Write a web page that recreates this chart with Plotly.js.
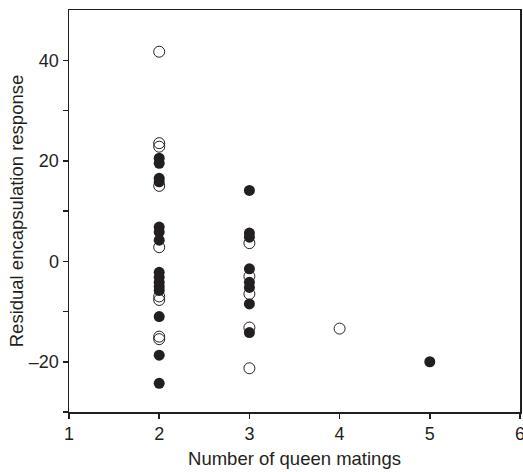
<!DOCTYPE html>
<html>
<head>
<meta charset="utf-8">
<script src="https://cdn.plot.ly/plotly-3.0.1.min.js"></script>
<style>html,body{margin:0;padding:0;background:#fff;}#chart{width:523px;height:472px;}</style>
</head>
<body>
<div id="chart"></div>
<script>
// Data
const filledX = [2,2,2,2,2,2,2,2,2,2,2,2,2,2,2, 3,3,3,3,3,3,3,3, 5];
const filledY = [20.5,19.5,16.5,15.8,6.8,5.8,4.2,-2.2,-3.2,-4.2,-5.0,-5.8,-11.0,-18.7,-24.3,
                 14.1,5.6,4.8,-1.5,-4.2,-5.2,-8.5,-14.2,
                 -20.0];
const openX = [2,2,2,2,2,2,2,2,2, 3,3,3,3,3, 4];
const openY = [41.7,23.5,22.8,15.0,2.8,-7.0,-7.7,-15.0,-15.5,
               3.6,-3.0,-6.5,-13.2,-21.3,
               -13.4];
const yTickVals = [-30,-20,-10,0,10,20,30,40];
const yTickText = ['','\u201320','','0','','20','','40'];
const xTickVals = [1,2,3,4,5,6];

const ink = '#231f20';
const traces = [
  {x: openX, y: openY, type: 'scatter', mode: 'markers',
   marker: {symbol: 'circle-open', size: 11, color: ink, line: {width: 1, color: ink}},
   hoverinfo: 'x+y', showlegend: false},
  {x: filledX, y: filledY, type: 'scatter', mode: 'markers',
   marker: {symbol: 'circle', size: 11, color: ink, line: {width: 0}},
   hoverinfo: 'x+y', showlegend: false}
];
const tickFont = {family: 'Liberation Sans, Arial, sans-serif', size: 18, color: ink};
const titleFont = {family: 'Liberation Sans, Arial, sans-serif', size: 18.5, color: ink};
const layout = {
  width: 523, height: 472,
  margin: {l: 69, r: 3, t: 10, b: 60},
  paper_bgcolor: '#fff', plot_bgcolor: '#fff',
  font: tickFont,
  showlegend: false,
  xaxis: {
    range: [1, 6], tickvals: xTickVals, ticktext: xTickVals.map(String),
    showline: true, mirror: true, linecolor: ink, linewidth: 1.5,
    ticks: 'outside', ticklen: 5, tickwidth: 1.5, tickcolor: ink,
    showgrid: false, zeroline: false, ticklabeloverflow: 'allow',
    tickfont: tickFont,
    title: {text: 'Number of queen matings', font: titleFont, standoff: 9}
  },
  yaxis: {
    range: [-30, 50], tickvals: yTickVals, ticktext: yTickText,
    showline: true, mirror: true, linecolor: ink, linewidth: 1.5,
    ticks: 'outside', ticklen: 5, tickwidth: 1.5, tickcolor: ink,
    showgrid: false, zeroline: false,
    tickfont: tickFont,
    title: {text: 'Residual encapsulation response', font: titleFont, standoff: 0}
  }
};
Plotly.newPlot('chart', traces, layout, {displayModeBar: false, staticPlot: true});
</script>
</body>
</html>
